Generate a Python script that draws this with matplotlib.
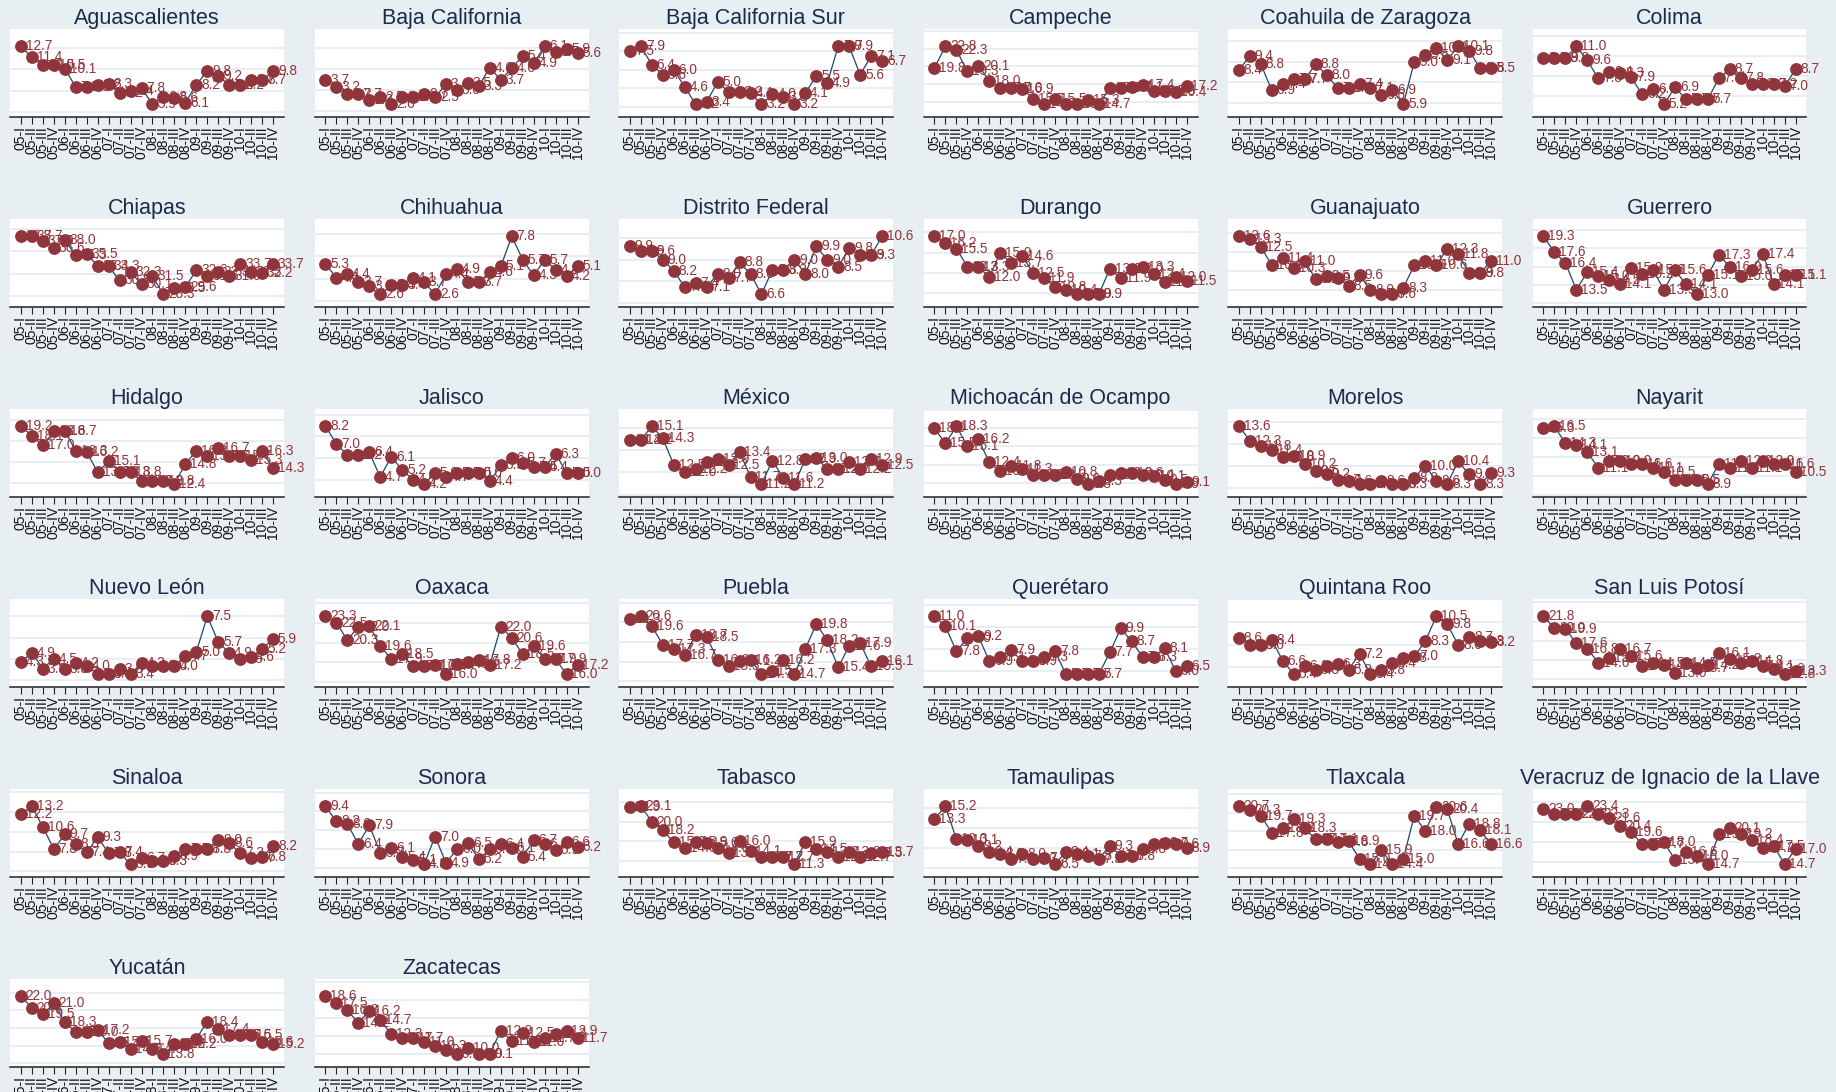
import matplotlib
matplotlib.use("Agg")
import matplotlib.pyplot as plt
from matplotlib.ticker import MaxNLocator

# Quarter labels on the x axis
quarters = ["05-I", "05-II", "05-III", "05-IV",
            "06-I", "06-II", "06-III", "06-IV",
            "07-I", "07-II", "07-III", "07-IV",
            "08-I", "08-II", "08-III", "08-IV",
            "09-I", "09-II", "09-III", "09-IV",
            "10-I", "10-II", "10-III", "10-IV"]

states = ["Aguascalientes", "Baja California", "Baja California Sur", "Campeche",
          "Coahuila de Zaragoza", "Colima", "Chiapas", "Chihuahua",
          "Distrito Federal", "Durango", "Guanajuato", "Guerrero",
          "Hidalgo", "Jalisco", "México", "Michoacán de Ocampo",
          "Morelos", "Nayarit", "Nuevo León", "Oaxaca",
          "Puebla", "Querétaro", "Quintana Roo", "San Luis Potosí",
          "Sinaloa", "Sonora", "Tabasco", "Tamaulipas",
          "Tlaxcala", "Veracruz de Ignacio de la Llave", "Yucatán", "Zacatecas"]

aguascalientes = [12.7, 11.4, 10.5, 10.5, 10.1, 7.9, 7.9, 8.2, 8.3, 7.2, 7.4, 7.8, 5.9, 6.8, 6.6, 6.1, 8.2, 9.8, 9.2, 8.2, 8.2, 8.7, 8.7, 9.8]
baja_california = [3.7, 3.2, 2.7, 2.7, 2.3, 2.5, 2.0, 2.5, 2.5, 2.7, 2.5, 3.4, 3.0, 3.5, 3.3, 4.6, 3.7, 4.6, 5.4, 4.9, 6.1, 5.7, 5.9, 5.6]
baja_california_sur = [7.5, 7.9, 6.4, 5.6, 6.0, 4.6, 3.2, 3.4, 5.0, 4.2, 4.2, 4.1, 3.2, 4.0, 3.8, 3.2, 4.1, 5.5, 4.9, 7.9, 7.9, 5.6, 7.1, 6.7]
campeche = [19.8, 22.8, 22.3, 19.3, 20.1, 18.0, 17.0, 17.0, 16.9, 15.5, 14.8, 15.5, 14.8, 14.8, 15.3, 14.7, 17.0, 17.0, 17.1, 17.4, 16.5, 16.5, 16.4, 17.2]
coahuila = [8.4, 9.4, 8.8, 6.9, 7.4, 7.7, 7.7, 8.8, 8.0, 7.1, 7.1, 7.4, 7.1, 6.6, 6.9, 5.9, 9.0, 9.5, 10.0, 9.1, 10.1, 9.8, 8.5, 8.5]
colima = [9.8, 9.8, 9.8, 11.0, 9.6, 7.8, 8.4, 8.3, 7.9, 6.2, 6.7, 5.2, 6.9, 5.7, 5.7, 5.7, 7.8, 8.7, 7.8, 7.2, 7.2, 7.2, 7.0, 8.7]
chiapas = [38.7, 38.7, 37.9, 36.6, 38.0, 35.3, 35.5, 33.4, 33.3, 30.8, 32.3, 30.1, 31.5, 28.3, 29.5, 29.6, 32.6, 31.6, 32.3, 31.6, 33.7, 32.3, 32.2, 33.7]
chihuahua = [5.3, 4.1, 4.4, 3.7, 3.3, 2.6, 3.4, 3.4, 4.1, 3.7, 2.6, 4.4, 4.9, 3.7, 3.7, 4.6, 5.1, 7.8, 5.7, 4.3, 5.7, 4.8, 4.2, 5.1]
distrito_federal = [9.9, 9.6, 9.6, 9.0, 8.2, 7.1, 7.4, 7.1, 8.0, 7.7, 8.8, 8.0, 6.6, 8.3, 8.3, 9.0, 8.0, 9.9, 9.0, 8.5, 9.8, 9.3, 9.3, 10.6]
durango = [17.0, 16.2, 15.5, 13.3, 13.3, 12.0, 15.0, 13.7, 14.6, 12.5, 11.9, 10.8, 10.4, 9.9, 9.9, 9.9, 13.0, 11.9, 13.0, 13.3, 12.4, 11.4, 12.0, 11.5]
guanajuato = [13.6, 13.3, 12.5, 10.6, 11.4, 10.3, 11.0, 9.2, 9.5, 9.3, 8.5, 9.6, 8.0, 7.6, 7.6, 8.3, 10.6, 11.0, 10.6, 12.3, 11.8, 9.8, 9.8, 11.0]
guerrero = [19.3, 17.6, 16.4, 13.5, 15.4, 15.0, 14.5, 14.1, 15.9, 15.2, 15.6, 13.5, 15.6, 14.1, 13.0, 15.1, 17.3, 16.0, 15.0, 15.6, 17.4, 14.1, 15.1, 15.1]
hidalgo = [19.2, 18.1, 17.0, 18.6, 18.7, 16.3, 16.2, 13.8, 15.1, 13.8, 13.8, 12.8, 12.8, 12.8, 12.4, 14.8, 16.3, 15.7, 16.7, 15.7, 15.7, 15.3, 16.3, 14.3]
jalisco = [8.2, 7.0, 6.2, 6.2, 6.4, 4.7, 6.1, 5.2, 4.5, 4.2, 5.0, 4.7, 5.0, 5.0, 5.0, 4.4, 5.5, 6.0, 5.7, 5.4, 5.4, 6.3, 5.0, 5.0]
mexico = [14.2, 14.2, 15.1, 14.3, 12.5, 12.0, 12.2, 12.7, 12.9, 12.5, 13.4, 11.7, 11.2, 12.8, 11.6, 11.2, 12.9, 13.0, 12.2, 12.2, 12.7, 12.2, 12.9, 12.5]
michoacan = [18.0, 15.5, 18.3, 15.1, 16.2, 12.4, 10.9, 11.8, 11.3, 10.3, 10.3, 10.3, 10.8, 9.6, 8.8, 9.3, 10.4, 10.6, 10.6, 10.4, 10.1, 9.5, 8.9, 9.1]
morelos = [13.6, 12.3, 11.8, 11.4, 10.8, 10.9, 10.2, 9.5, 9.2, 8.7, 8.6, 8.3, 8.3, 8.6, 8.3, 8.3, 8.9, 10.0, 8.6, 8.3, 10.4, 9.2, 8.3, 9.3]
nayarit = [16.3, 16.5, 14.3, 14.1, 13.1, 11.1, 12.0, 12.0, 11.6, 11.6, 11.1, 10.5, 9.5, 9.5, 9.5, 8.9, 11.6, 11.1, 12.0, 11.1, 12.0, 11.6, 11.6, 10.5]
nuevo_leon = [4.3, 4.9, 3.8, 4.5, 3.8, 4.2, 4.0, 3.4, 3.4, 3.8, 3.4, 4.2, 4.0, 4.0, 4.0, 4.7, 5.0, 7.5, 5.7, 4.9, 4.5, 4.6, 5.2, 5.9]
oaxaca = [23.3, 22.5, 20.3, 22.0, 22.1, 19.6, 17.9, 18.5, 17.0, 17.0, 17.2, 16.0, 17.3, 17.6, 17.8, 17.2, 22.0, 20.6, 18.5, 19.6, 17.9, 17.9, 16.0, 17.2]
puebla = [20.3, 20.6, 19.6, 17.7, 17.3, 16.7, 18.7, 18.5, 16.2, 15.5, 16.1, 16.2, 14.7, 15.0, 16.2, 14.7, 17.3, 19.8, 18.2, 15.4, 17.6, 17.9, 15.5, 16.1]
queretaro = [11.0, 10.1, 7.8, 9.0, 9.2, 6.9, 7.3, 7.9, 6.9, 6.9, 7.3, 7.8, 5.7, 5.7, 5.7, 5.7, 7.7, 9.9, 8.7, 7.3, 7.3, 8.1, 6.0, 6.5]
quintana_roo = [8.6, 8.0, 8.0, 8.4, 6.6, 5.4, 6.1, 5.8, 6.1, 6.3, 5.8, 7.2, 5.4, 5.8, 6.4, 6.8, 7.0, 8.3, 10.5, 9.8, 8.0, 8.7, 8.3, 8.2]
san_luis_potosi = [21.8, 20.0, 19.9, 17.6, 16.8, 14.6, 15.3, 16.7, 15.6, 14.1, 14.5, 14.3, 13.0, 14.5, 13.7, 14.2, 16.1, 15.2, 14.5, 14.8, 14.1, 13.6, 12.8, 13.3]
sinaloa = [12.2, 13.2, 10.6, 7.8, 9.7, 8.5, 7.4, 9.3, 7.3, 7.4, 5.9, 6.7, 6.3, 6.3, 6.9, 7.8, 7.8, 7.8, 9.0, 8.6, 7.3, 6.7, 6.8, 8.2]
sonora = [9.4, 8.2, 8.0, 6.4, 7.9, 5.7, 6.1, 5.4, 5.1, 4.8, 7.0, 4.9, 6.0, 6.5, 5.2, 6.0, 6.4, 6.1, 5.4, 6.7, 6.4, 5.9, 6.6, 6.2]
tabasco = [22.9, 23.1, 20.0, 18.2, 15.8, 14.6, 15.9, 15.6, 14.6, 13.5, 16.0, 14.1, 12.7, 12.7, 12.7, 11.3, 15.9, 14.5, 13.8, 12.7, 13.8, 12.7, 13.5, 13.7]
tamaulipas = [13.3, 15.2, 10.3, 10.1, 9.2, 8.4, 8.0, 7.3, 8.0, 7.3, 7.5, 6.5, 8.4, 8.1, 7.8, 7.3, 9.3, 7.8, 7.8, 8.8, 9.6, 9.7, 9.6, 8.9]
tlaxcala = [20.7, 20.3, 19.7, 17.8, 18.3, 19.3, 18.3, 17.1, 17.1, 16.8, 16.9, 15.0, 14.4, 15.9, 14.4, 15.0, 19.7, 18.0, 20.6, 20.4, 16.6, 18.8, 18.1, 16.6]
veracruz = [23.0, 22.3, 22.3, 22.3, 23.4, 22.3, 21.6, 20.4, 19.6, 17.7, 17.7, 18.0, 15.4, 16.6, 16.0, 14.7, 19.2, 20.1, 19.2, 18.4, 17.2, 17.5, 14.7, 17.0]
yucatan = [22.0, 20.4, 19.5, 21.0, 18.3, 17.0, 17.0, 17.2, 15.4, 15.6, 14.5, 15.7, 14.5, 13.8, 15.2, 15.2, 16.0, 18.4, 17.4, 16.5, 16.5, 16.5, 15.6, 15.2]
zacatecas = [18.6, 17.5, 16.3, 14.2, 16.2, 14.7, 12.3, 11.7, 11.7, 11.0, 10.3, 9.7, 9.1, 10.0, 9.0, 9.1, 12.9, 11.2, 12.5, 11.0, 11.7, 12.3, 12.9, 11.7]

series = [aguascalientes, baja_california, baja_california_sur, campeche,
          coahuila, colima, chiapas, chihuahua,
          distrito_federal, durango, guanajuato, guerrero,
          hidalgo, jalisco, mexico, michoacan,
          morelos, nayarit, nuevo_leon, oaxaca,
          puebla, queretaro, quintana_roo, san_luis_potosi,
          sinaloa, sonora, tabasco, tamaulipas,
          tlaxcala, veracruz, yucatan, zacatecas]

BG = "#e8eff2"
GRID = "#e2e9ed"
LINE = "#1a476f"
MAROON = "#90353b"
TITLE = "#1c2a4c"
FONT = "Liberation Sans"

W, H = 1836, 1092
fig = plt.figure(figsize=(W / 100, H / 100), dpi=100, facecolor=BG)

NCOL = 6
for i, (name, vals) in enumerate(zip(states, series)):
    r, c = divmod(i, NCOL)
    left = (10 + 304.5 * c) / W
    bottom = 1 - (117 + 190 * r) / H
    ax = fig.add_axes([left, bottom, 274 / W, 88 / H])
    ax.set_facecolor("white")

    x = list(range(len(vals)))
    ax.plot(x, vals, color=LINE, lw=0.9, zorder=2)
    ax.plot(x, vals, "o", ms=8.2, color=MAROON, mec=MAROON, zorder=3)
    for xi, v in zip(x, vals):
        ax.annotate(f"{v:.1f}", (xi, v), xytext=(3.5, 0), textcoords="offset points",
                    ha="left", va="center", color=MAROON, fontsize=9.8,
                    family=FONT, annotation_clip=False, zorder=4)

    lo, hi = min(vals), max(vals)
    span = hi - lo
    ax.set_ylim(lo - 0.22 * span, hi + 0.3 * span)
    ax.set_xlim(-1, len(vals))
    ax.yaxis.set_major_locator(MaxNLocator(5))
    ax.grid(axis="y", color=GRID, lw=1.1)
    ax.set_axisbelow(True)
    ax.tick_params(axis="y", left=False, labelleft=False)

    ax.set_xticks(x)
    ax.set_xticklabels(quarters, rotation=90, fontsize=10, family=FONT, color="#111111")
    ax.tick_params(axis="x", length=5, width=0.8, pad=1.5, color="#222222")

    for side in ("top", "right", "left"):
        ax.spines[side].set_visible(False)
    ax.spines["bottom"].set_color("#222222")
    ax.spines["bottom"].set_linewidth(1.1)

    ax.set_title(name, fontsize=15.5, color=TITLE, family=FONT, pad=2.5)

fig.savefig("out.png", dpi=100, facecolor=BG)
